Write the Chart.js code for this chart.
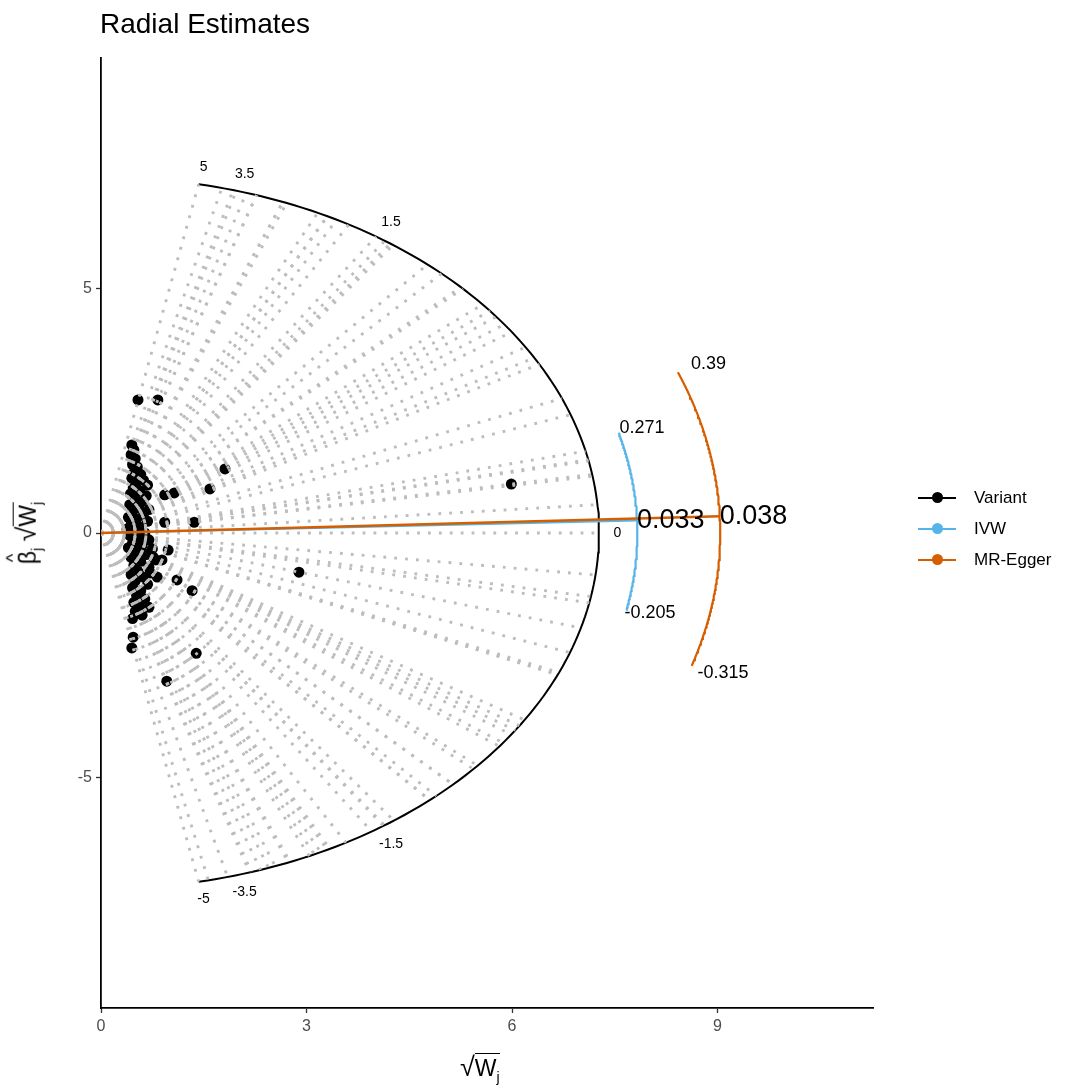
<!DOCTYPE html>
<html>
<head>
<meta charset="utf-8">
<script src="https://cdn.jsdelivr.net/npm/chart.js@4/dist/chart.umd.min.js"></script>
<style>
  body { margin: 0; background: #fff; font-family: "Liberation Sans", Arial, sans-serif; }
  #wrap { position: relative; width: 1090px; height: 1090px; }
  #radial { position: absolute; left: 0; top: 0; }
  .title { position: absolute; left: 100px; top: 8px; font-size: 28px; color: #000; }
  .axis-title { position: absolute; font-size: 23px; color: #000; white-space: nowrap; }
  .axis-title sub { font-size: 14px; }
  .ol { border-top: 1.5px solid #000; padding-top: 1px; }
  .rad { font-size: 27px; }
  #xTitle { left: 460px; top: 1052px; }
  #yTitle { left: 28px; top: 533px; transform: translate(-50%, -50%) rotate(-90deg); }
  .hat { position: relative; }
  .hat i { position: absolute; left: 2px; top: -12px; font-style: normal; font-size: 18px; }
  .legend { position: absolute; left: 918px; top: 482px; font-size: 17px; color: #000; }
  .legend div { height: 31px; display: flex; align-items: center; }
  .key { position: relative; width: 38px; height: 2px; margin-right: 18px; }
  .key b { position: absolute; left: 14px; top: -5px; width: 11px; height: 11px; border-radius: 50%; }
</style>
</head>
<body>
<div id="wrap">
  <canvas id="radial" width="1090" height="1090"></canvas>
  <div class="title">Radial Estimates</div>
  <div id="xTitle" class="axis-title"><span class="rad">√</span><span class="ol">W<sub>j</sub></span></div>
  <div id="yTitle" class="axis-title"><span class="hat">β<i>^</i></span><sub>j</sub> <span class="rad">√</span><span class="ol">W<sub>j</sub></span></div>
  <div class="legend" id="legend"></div>
</div>
<script>
// variant estimates: sqrt(W_j) and beta_j * sqrt(W_j)
const sqrtW = [
  0.54, 0.83, 1.81, 1.59, 0.93, 1.07, 1.36, 0.93, 5.99, 2.89, 0.98, 0.82, 1.11, 1.33, 1.39, 0.96, 0.47, 0.45,
  0.76, 0.89, 0.72,
  0.45, 0.48, 0.44, 0.50, 0.46, 0.53, 0.49, 0.58, 0.45, 0.62, 0.52, 0.68, 0.47, 0.57, 0.43, 0.66, 0.50, 0.60,
  0.42, 0.55, 0.70, 0.46, 0.62, 0.40, 0.52, 0.68, 0.44, 0.58, 0.38, 0.50, 0.64, 0.42, 0.55, 0.70, 0.46, 0.60,
  0.40, 0.75, 0.52, 0.66, 0.44, 0.80, 0.58, 0.48, 0.70, 0.54, 0.44, 0.62, 0.50, 0.68, 0.46, 0.58, 0.52, 0.64,
  0.48, 0.56, 0.70, 0.50, 0.60, 0.46
];
const betaSqrtW = [
  2.72, 2.72, 1.31, 0.90, 0.78, 0.82, 0.22, 0.22, 1.00, -0.80, -0.35, -0.90, -0.96, -1.18, -2.46, -3.03, -2.13, -2.35,
  -0.49, -0.55, -0.82,
  1.80, 1.70, 1.60, 1.52, 1.40, 1.35, 1.25, 1.20, 1.12, 1.08, 1.02, 0.98, 0.92, 0.86, 0.80, 0.76, 0.70, 0.64,
  0.58, 0.52, 0.48, 0.44, 0.38, 0.32, 0.28, 0.24, 0.18, 0.12, 0.08, 0.04, 0.00, -0.05, -0.10, -0.14, -0.20, -0.26,
  -0.30, -0.32, -0.38, -0.44, -0.50, -0.55, -0.58, -0.66, -0.70, -0.78, -0.85, -0.90, -0.98, -1.05, -1.12, -1.18, -1.28, -1.35,
  -1.42, -1.50, -1.52, -1.60, -1.68, -1.75
];

// ratio scale printed round the outer arc
const scaleTicks = [5, 3.5, 1.5, 0, -1.5, -3.5, -5];
const scaleRange = [-5, 5];

// IVW and MR-Egger slopes with their interval ends
const ivwEstimate = 0.033;
const ivwInterval = [-0.205, 0.271];
const eggerEstimate = 0.038;
const eggerInterval = [-0.315, 0.39];
const eggerIntercept = 0;

const xTicks = [0, 3, 6, 9];
const yTicks = [-5, 0, 5];

const legendNames = ['Variant', 'IVW', 'MR-Egger'];
const legendColors = ['#000000', '#56B4E9', '#D55E00'];

// radii of the three arcs
const scaleR = 7.27, ivwR = 7.83, eggerR = 9.04;

function arcPoints(r, lo, hi) {
  const pts = [];
  const a0 = Math.atan(lo), a1 = Math.atan(hi);
  const n = 150;
  for (let i = 0; i <= n; i++) {
    const a = a0 + (a1 - a0) * i / n;
    pts.push({ x: r * Math.cos(a), y: r * Math.sin(a) });
  }
  return pts;
}
function rayEnd(r, slope) {
  const a = Math.atan(slope);
  return { x: r * Math.cos(a), y: r * Math.sin(a) };
}

const variants = sqrtW.map((w, i) => ({ x: w, y: betaSqrtW[i] }));

const datasets = [];
datasets.push({
  data: variants, showLine: false, pointRadius: 5.5, pointBackgroundColor: '#000',
  pointBorderWidth: 0, order: 5
});
datasets.push({
  data: arcPoints(scaleR, scaleRange[0], scaleRange[1]), showLine: true, borderColor: '#000',
  borderWidth: 2, pointRadius: 0, order: 4
});
// dotted ray from the origin through each variant out to the scale
variants.forEach(p => {
  const ratio = Math.max(scaleRange[0], Math.min(scaleRange[1], p.y / p.x));
  datasets.push({
    data: [{ x: 0, y: 0 }, rayEnd(scaleR, ratio)], showLine: true,
    borderColor: '#bdbdbd', borderWidth: 2.9, borderDash: [2.8, 8.1],
    borderCapStyle: 'butt', pointRadius: 0, order: 3
  });
});
datasets.push({
  data: arcPoints(ivwR, ivwInterval[0], ivwInterval[1]), showLine: true, borderColor: legendColors[1],
  borderWidth: 2.2, pointRadius: 0, order: 2
});
datasets.push({
  data: [{ x: 0, y: 0 }, rayEnd(ivwR, ivwEstimate)], showLine: true, borderColor: legendColors[1],
  borderWidth: 2.2, pointRadius: 0, order: 2
});
datasets.push({
  data: arcPoints(eggerR, eggerInterval[0], eggerInterval[1]), showLine: true, borderColor: legendColors[2],
  borderWidth: 2.2, pointRadius: 0, order: 1
});
const eggerEnd = rayEnd(eggerR, eggerEstimate);
datasets.push({
  data: [{ x: 0, y: eggerIntercept }, { x: eggerEnd.x, y: eggerEnd.y + eggerIntercept }], showLine: true,
  borderColor: legendColors[2], borderWidth: 2.6, pointRadius: 0, order: 1
});

// text written round the arcs
const arcLabels = {
  id: 'arcLabels',
  afterDraw(chart) {
    const { ctx, scales: { x, y } } = chart;
    const put = (p, txt, size, align) => {
      ctx.font = size + 'px "Liberation Sans", Arial, sans-serif';
      ctx.textAlign = align || 'center';
      ctx.textBaseline = 'middle';
      ctx.fillStyle = '#000';
      ctx.fillText(txt, x.getPixelForValue(p.x), y.getPixelForValue(p.y));
    };
    ctx.save();
    scaleTicks.forEach(t => put(rayEnd(scaleR * (t === 0 ? 1.037 : 1.05), t), String(t), 14));
    ivwInterval.forEach(t => put(rayEnd(ivwR * 1.045, t), String(t), 18));
    eggerInterval.forEach(t => put(rayEnd(eggerR * 1.053, t), String(t), 18));
    put(rayEnd(ivwR, ivwEstimate), ivwEstimate.toFixed(3), 27, 'left');
    put(eggerEnd, eggerEstimate.toFixed(3), 27, 'left');
    ctx.restore();
  }
};

const axisStyle = {
  grid: { drawOnChartArea: false, color: '#333', tickLength: 5, tickWidth: 1.3 },
  border: { color: '#000', width: 1.8 },
  ticks: { color: '#4d4d4d', font: { size: 16, family: '"Liberation Sans", Arial, sans-serif' }, padding: 4 }
};

new Chart(document.getElementById('radial'), {
  type: 'scatter',
  data: { datasets },
  options: {
    responsive: false,
    animation: false,
    layout: { padding: { left: 0, top: 58, right: 217, bottom: 0 } },
    plugins: { legend: { display: false }, tooltip: { enabled: false } },
    scales: {
      x: Object.assign({}, axisStyle, {
        type: 'linear', min: 0, max: 11.27,
        afterBuildTicks: s => { s.ticks = xTicks.map(v => ({ value: v })); },
        afterFit: s => { s.height = 82; }
      }),
      y: Object.assign({}, axisStyle, {
        type: 'linear', min: -9.71, max: 9.71,
        afterBuildTicks: s => { s.ticks = yTicks.map(v => ({ value: v })); },
        afterFit: s => { s.width = 101; }
      })
    }
  },
  plugins: [arcLabels]
});

// legend on the right
const legend = document.getElementById('legend');
legendNames.forEach((name, i) => {
  const row = document.createElement('div');
  row.innerHTML = `<span class="key" style="background:${legendColors[i]}"><b style="background:${legendColors[i]}"></b></span>${name}`;
  legend.appendChild(row);
});
</script>
</body>
</html>
